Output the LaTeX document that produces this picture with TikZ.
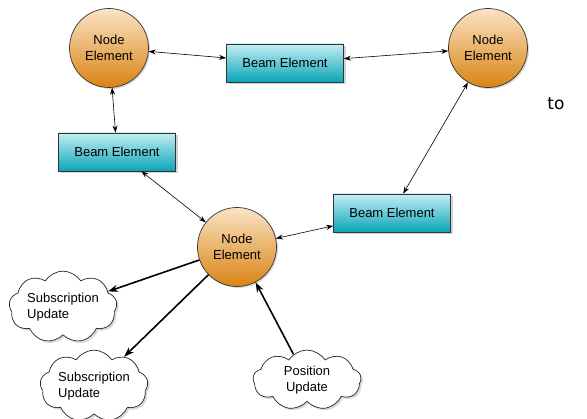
\documentclass[tikz,border=0pt]{standalone}
\usepackage{fontspec}
\setmainfont{Liberation Sans}
\newfontfamily\tofont{DejaVu Sans}
\usetikzlibrary{shapes.symbols,shadows,arrows.meta}
\definecolor{nodetop}{HTML}{FAE3C6}
\definecolor{nodemid}{HTML}{F3BE7C}
\definecolor{nodebot}{HTML}{D98412}
\definecolor{beamtop}{HTML}{C4EEF3}
\definecolor{beambot}{HTML}{0AA5B6}
\tikzset{
  elem/.style={circle, draw=black!80, line width=0.7pt, minimum size=79pt, inner sep=0pt,
    top color=nodetop, middle color=nodemid, bottom color=nodebot, align=center,
    font=\fontsize{13}{16}\selectfont,
    drop shadow={opacity=0.3, shadow xshift=1.5pt, shadow yshift=-1.5pt}},
  beam/.style={rectangle, draw=black!80, line width=0.7pt, minimum width=117pt, minimum height=38pt,
    top color=beamtop, bottom color=beambot,
    font=\fontsize{13}{16}\selectfont,
    drop shadow={opacity=0.35, shadow xshift=2pt, shadow yshift=-2pt}},
  upd/.style={cloud, cloud puffs=9, cloud puff arc=115, aspect=1.8, draw=black!85, line width=0.7pt,
    fill=white, minimum width=108pt, minimum height=60pt, inner sep=0pt,
    font=\fontsize{13}{16}\selectfont,
    drop shadow={opacity=0.3, shadow xshift=2pt, shadow yshift=-2pt}},
  link/.style={{Stealth[length=7pt,width=5pt]}-{Stealth[length=7pt,width=5pt]}, line width=0.6pt, black},
  push/.style={-{Stealth[length=10pt,width=7pt]}, line width=1.6pt, black}
}
\begin{document}
\begin{tikzpicture}[x=1pt,y=-1pt]
\useasboundingbox (0,0) rectangle (587,419);
\node[elem] (n1) at (109,48) {Node\\Element};
\node[elem] (n2) at (488,48) {Node\\Element};
\node[elem] (n3) at (237,247) {Node\\Element};
\node[beam] (b1) at (285,63) {Beam Element};
\node[beam] (b2) at (117,152) {Beam Element};
\node[beam] (b3) at (392,213) {Beam Element};
\node[upd, align=left] (s1) at (63,307) {Subscription\\Update};
\node[upd, align=left] (s2) at (94,386) {Subscription\\Update};
\node[upd, align=center] (p1) at (307,380) {Position\\Update};
\node[font=\tofont\fontsize{17}{20}\selectfont] (to) at (556,104) {to};
\draw[link] (n1) -- (b1);
\draw[link] (b1) -- (n2);
\draw[link] (n1) -- (b2);
\draw[link] (b2) -- (n3);
\draw[link] (n3) -- (b3);
\draw[link] (b3) -- (n2);
\draw[push] (n3) -- (s1);
\draw[push] (n3) -- (s2);
\draw[push] (p1) -- (n3);
\end{tikzpicture}
\end{document}
